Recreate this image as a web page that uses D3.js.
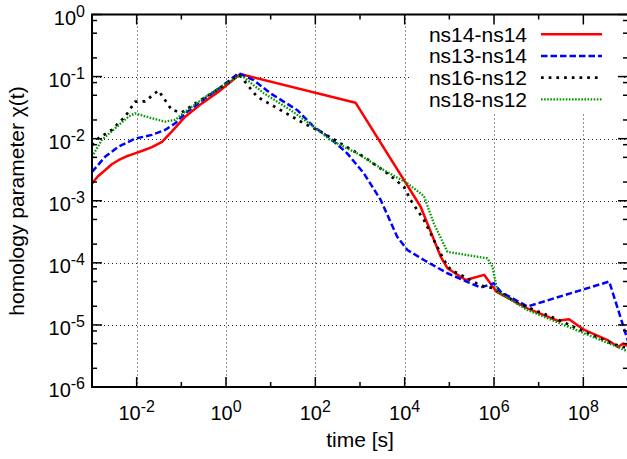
<!DOCTYPE html>
<html>
<head>
<meta charset="utf-8">
<script src="https://cdn.jsdelivr.net/npm/d3@7"></script>
<style>
body { margin: 0; background: #fff; }
svg { display: block; font-family: "Liberation Sans", Arial, Helvetica, sans-serif; }
</style>
</head>
<body>
<svg id="chart"></svg>
<script>
// series names (legend order)
var seriesNames = ["ns14-ns14", "ns13-ns14", "ns16-ns12", "ns18-ns12"];

// ns14-ns14
var t_ns14_ns14 = [1e-3, 1.36e-3, 1.96e-3, 2.73e-3, 3.9e-3, 5.77e-3, 9.2e-3, 1.39e-2, 2.2e-2, 3.7e-2, 6.1e-2, 0.122, 0.289, 0.68, 2.09, 794,
  2.28e4, 6.4e4, 9.06e4, 2.33e5, 6.0e5, 1.15e6, 5.6e6, 2.65e7, 4.8e7, 1.05e8, 3.5e8, 6.0e8, 7.75e8, 1e9];
var chi_ns14_ns14 = [1.9e-3, 2.48e-3, 3.1e-3, 3.84e-3, 4.5e-3, 5.16e-3, 5.8e-3, 6.44e-3, 7.3e-3, 8.9e-3, 1.3e-2, 2.26e-2, 3.7e-2, 5.7e-2, 0.110, 0.038,
  8.0e-4, 1.26e-4, 8.2e-5, 5.3e-5, 6.4e-5, 3.4e-5, 1.85e-5, 1.17e-5, 1.23e-5, 8.3e-6, 5.7e-6, 4.4e-6, 5.0e-6, 4.6e-6];

// ns13-ns14
var t_ns13_ns14 = [1e-3, 1.96e-3, 3.9e-3, 9.2e-3, 2.2e-2, 4.3e-2, 7.3e-2, 0.122, 0.343, 0.82, 1.91, 4.15, 9.8, 39,
  92, 218, 517, 1.22e3, 2.9e3, 6.8e3, 1.15e4, 2.7e4, 9.06e4, 5.0e5, 1.0e6, 1.42e6, 5.6e6, 3.8e8, 1e9];
var chi_ns13_ns14 = [2.9e-3, 5.1e-3, 7.4e-3, 1.0e-2, 1.15e-2, 1.38e-2, 1.77e-2, 2.56e-2, 4.5e-2, 7.05e-2, 0.113, 8.8e-2, 5.4e-2, 2.9e-2,
  1.56e-2, 1.01e-2, 5.8e-3, 2.77e-3, 1.03e-3, 2.64e-4, 1.61e-4, 1.11e-4, 6.8e-5, 4.0e-5, 4.7e-5, 3.4e-5, 1.98e-5, 5.0e-5, 5.5e-6];

// ns16-ns12
var t_ns16_ns12 = [1e-3, 1.38e-3, 2.77e-3, 5.5e-3, 9.2e-3, 1.55e-2, 3.07e-2, 6.1e-2, 0.103, 0.204, 0.484, 1.36, 1.93, 2.48,
  4.95, 16.5, 55, 154, 365, 1.22e3, 4.1e3, 9.6e3, 1.36e4, 2.7e4, 4.5e4, 7.6e4, 1.07e5, 1.8e5, 5.0e5, 1.0e6,
  3.4e6, 1.88e7, 1.05e8, 4.2e8, 1e9];
var chi_ns16_ns12 = [7.9e-3, 1.01e-2, 1.38e-2, 2.26e-2, 3.94e-2, 4.0e-2, 5.97e-2, 2.9e-2, 2.64e-2, 3.7e-2, 5.4e-2, 8.8e-2, 0.108, 8.8e-2,
  4.74e-2, 2.9e-2, 1.77e-2, 1.22e-2, 8.4e-3, 5.1e-3, 2.77e-3, 1.68e-3, 1.03e-3, 4.9e-4, 2.33e-4, 1.11e-4, 7.7e-5, 6.4e-5, 4.3e-5, 3.9e-5,
  2.23e-5, 1.36e-5, 7.8e-6, 5.06e-6, 4.2e-6];

// ns18-ns12
var t_ns18_ns12 = [1e-3, 1.65e-3, 3.3e-3, 6.5e-3, 9.2e-3, 2.2e-2, 4.3e-2, 7.3e-2, 0.122, 0.343, 0.82, 1.93, 2.48, 7.0,
  27.7, 92, 218, 867, 3.4e3, 1.15e4, 2.7e4, 4.5e4, 9.06e4, 7.1e5, 9.25e5, 1.2e6, 5.6e6, 1.05e8, 7.0e8, 1e9];
var chi_ns18_ns12 = [5.1e-3, 9.5e-3, 1.47e-2, 2.26e-2, 2.56e-2, 2.13e-2, 1.88e-2, 2.0e-2, 2.72e-2, 4.7e-2, 7.05e-2, 0.102, 9.8e-2, 5.4e-2,
  2.9e-2, 1.56e-2, 9.5e-3, 5.8e-3, 3.13e-3, 1.91e-3, 1.19e-3, 4.3e-4, 1.51e-4, 1.18e-4, 8.7e-5, 3.4e-5, 1.74e-5, 7.3e-6, 4.2e-6, 3.7e-6];

// tick exponents
var xTickExp = [-2, 0, 2, 4, 6, 8];
var xMinorExp = [-1, 1, 3, 5, 7];
var yTickExp = [0, -1, -2, -3, -4, -5, -6];
var yMinorMult = [2, 5, 8];

var width = 627, height = 459;
var pLeft = 92, pRight = 628, pTop = 14.5, pBottom = 387;

var svg = d3.select("#chart")
    .attr("width", width)
    .attr("height", height);

var x = d3.scaleLog().domain([1e-3, 1e9]).range([pLeft, pRight]);
var y = d3.scaleLog().domain([1e-6, 1]).range([pBottom, pTop]);

// grid
var grid = svg.append("g")
    .attr("stroke", "#222")
    .attr("stroke-width", 1)
    .attr("stroke-dasharray", "1,3");
grid.selectAll(".gx")
    .data(xTickExp)
    .enter()
    .append("line")
    .attr("x1", function(e){ return Math.round(x(Math.pow(10, e))) + 0.5; })
    .attr("x2", function(e){ return Math.round(x(Math.pow(10, e))) + 0.5; })
    .attr("y1", pTop)
    .attr("y2", pBottom);
grid.selectAll(".gy")
    .data(yTickExp.slice(1, -1))
    .enter()
    .append("line")
    .attr("y1", function(e){ return Math.round(y(Math.pow(10, e))) + 0.5; })
    .attr("y2", function(e){ return Math.round(y(Math.pow(10, e))) + 0.5; })
    .attr("x1", pLeft)
    .attr("x2", pRight);

// opaque key box
svg.append("rect")
    .attr("x", 410).attr("y", 20)
    .attr("width", 212).attr("height", 92)
    .attr("fill", "#fff");

// clip to plot area
svg.append("clipPath").attr("id", "clip")
    .append("rect")
    .attr("x", pLeft).attr("y", pTop)
    .attr("width", pRight - pLeft).attr("height", pBottom - pTop);

var series = [
    {t: t_ns14_ns14, v: chi_ns14_ns14},
    {t: t_ns13_ns14, v: chi_ns13_ns14},
    {t: t_ns16_ns12, v: chi_ns16_ns12},
    {t: t_ns18_ns12, v: chi_ns18_ns12}
];
var colors = ["#ff0000", "#0000ff", "#000000", "#009a00"];
var dashes = [null, "6.5,3", "2.7,5", "1.6,1.5"];
var widths = [2.5, 2.5, 2.7, 2.3];

var line = d3.line()
    .x(function(d){ return x(d[0]); })
    .y(function(d){ return y(d[1]); });

var plot = svg.append("g").attr("clip-path", "url(#clip)");
series.forEach(function(s, i) {
    var pts = s.t.map(function(t, k){ return [t, s.v[k]]; });
    plot.append("path")
        .attr("d", line(pts))
        .attr("fill", "none")
        .attr("stroke", colors[i])
        .attr("stroke-width", widths[i])
        .attr("stroke-linejoin", "round")
        .attr("stroke-dasharray", dashes[i]);
});

// ticks
var ticks = svg.append("g").attr("stroke", "#000").attr("stroke-width", 1.5);
xTickExp.forEach(function(e) {
    var px = x(Math.pow(10, e));
    ticks.append("line").attr("x1", px).attr("x2", px).attr("y1", pBottom).attr("y2", pBottom - 10);
    ticks.append("line").attr("x1", px).attr("x2", px).attr("y1", pTop).attr("y2", pTop + 10);
});
xMinorExp.forEach(function(e) {
    var px = x(Math.pow(10, e));
    ticks.append("line").attr("x1", px).attr("x2", px).attr("y1", pBottom).attr("y2", pBottom - 5);
    ticks.append("line").attr("x1", px).attr("x2", px).attr("y1", pTop).attr("y2", pTop + 5);
});
yTickExp.forEach(function(e) {
    var py = y(Math.pow(10, e));
    ticks.append("line").attr("y1", py).attr("y2", py).attr("x1", pLeft).attr("x2", pLeft + 10);
    ticks.append("line").attr("y1", py).attr("y2", py).attr("x1", pRight).attr("x2", pRight - 10);
    if (e > -6) {
        yMinorMult.forEach(function(m) {
            var pm = y(m * Math.pow(10, e - 1));
            ticks.append("line").attr("y1", pm).attr("y2", pm).attr("x1", pLeft).attr("x2", pLeft + 5);
            ticks.append("line").attr("y1", pm).attr("y2", pm).attr("x1", pRight).attr("x2", pRight - 5);
        });
    }
});

// border
svg.append("rect")
    .attr("x", pLeft).attr("y", pTop)
    .attr("width", pRight - pLeft).attr("height", pBottom - pTop)
    .attr("fill", "none")
    .attr("stroke", "#000")
    .attr("stroke-width", 2);

function powLabel(sel, e) {
    sel.append("tspan").text("10");
    sel.append("tspan").attr("font-size", 16).attr("dy", -8).text(e);
}

// x tick labels
xTickExp.forEach(function(e) {
    var t = svg.append("text")
        .attr("x", x(Math.pow(10, e)))
        .attr("y", 420)
        .attr("text-anchor", "middle")
        .attr("font-size", 20);
    powLabel(t, e);
});

// y tick labels
yTickExp.forEach(function(e) {
    var t = svg.append("text")
        .attr("x", 85)
        .attr("y", y(Math.pow(10, e)) + 10)
        .attr("text-anchor", "end")
        .attr("font-size", 20);
    powLabel(t, e);
});

// axis titles
svg.append("text")
    .attr("x", (pLeft + pRight) / 2)
    .attr("y", 447)
    .attr("text-anchor", "middle")
    .attr("font-size", 21)
    .text("time [s]");

svg.append("text")
    .attr("transform", "translate(24,201) rotate(-90)")
    .attr("text-anchor", "middle")
    .attr("font-size", 21)
    .text("homology parameter \u03c7(t)");

// legend
seriesNames.forEach(function(name, i) {
    svg.append("text")
        .attr("x", 527)
        .attr("y", 41.7 + i * 21.7)
        .attr("text-anchor", "end")
        .attr("font-size", 21)
        .text(name);
    svg.append("line")
        .attr("x1", 541).attr("x2", 602)
        .attr("y1", 34.3 + i * 21.7).attr("y2", 34.3 + i * 21.7)
        .attr("stroke", colors[i])
        .attr("stroke-width", widths[i])
        .attr("stroke-dasharray", dashes[i]);
});
</script>
</body>
</html>
